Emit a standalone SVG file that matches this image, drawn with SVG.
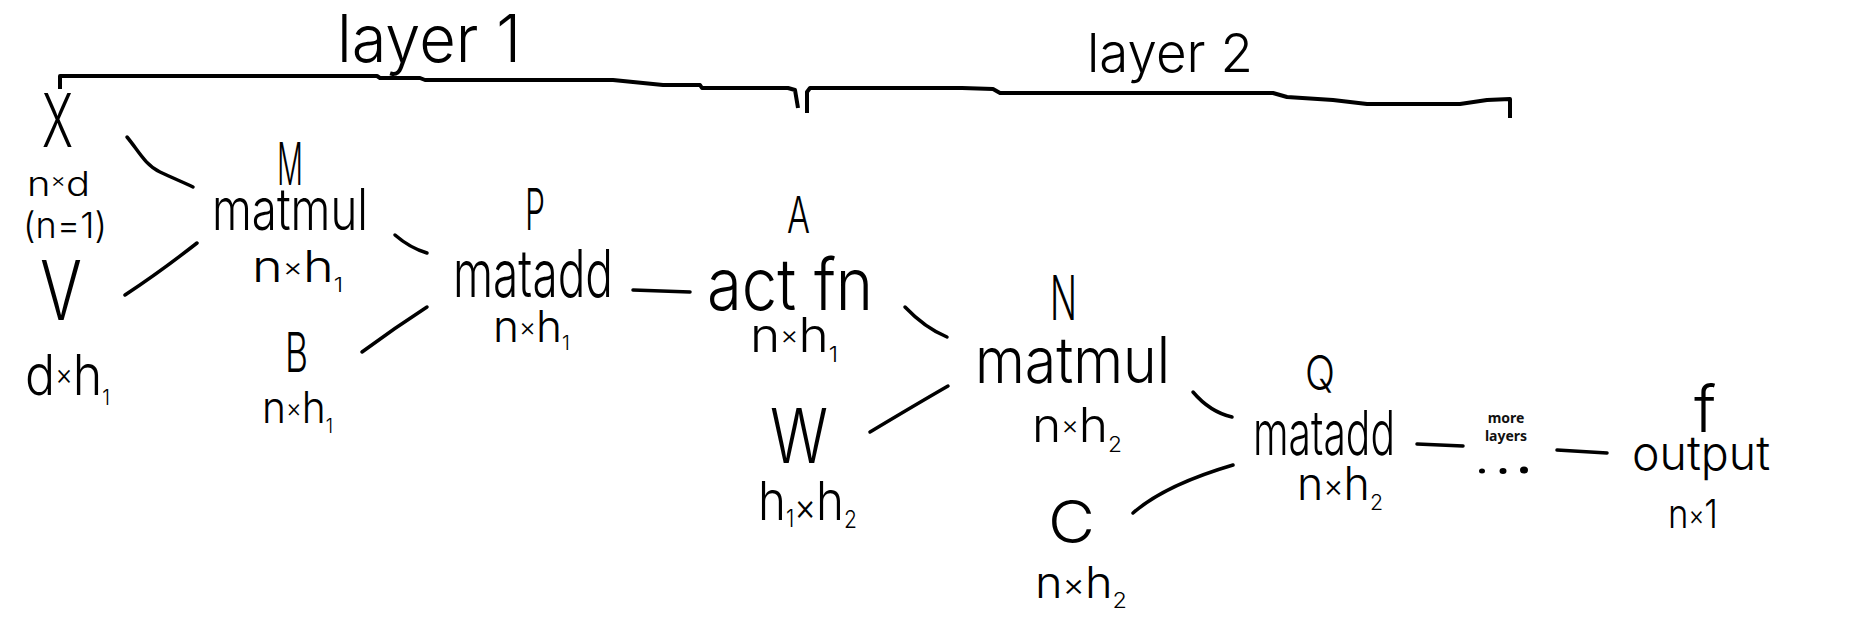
<svg xmlns="http://www.w3.org/2000/svg" width="1875" height="631" viewBox="0 0 1875 631">
<style>
text { font-family: Inter, "DejaVu Sans", "Liberation Sans", sans-serif; font-weight: 300; fill: #000; }
.ml { font-family: "Noto Sans", "Open Sans", "Liberation Sans", sans-serif; font-weight: 700; font-size: 14px; fill: #111; }
.ln { fill: none; stroke: #000; stroke-width: 3.5; stroke-linecap: round; stroke-linejoin: round; }
.br { fill: none; stroke: #000; stroke-width: 4; stroke-linejoin: round; stroke-linecap: butt; }
</style>
<rect width="1875" height="631" fill="#fff"/>

<g id="layer-brackets">
  <path class="br" d="M60,89 L60,76 L377,76 L380,78 L420,78 L425,80 L613,80 L663,85 L700,85 L702,88 L788,88 L795,90 L798,108"/>
  <path class="br" d="M807,113 L807,92 L810,88 L962,88 L993,89 L1000,93 L1273,93 L1287,97 L1333,100 L1367,104 L1460,104 L1487,100 L1510,99 L1510,118"/>
  <text x="337" y="62" font-size="66" textLength="184" lengthAdjust="spacingAndGlyphs">layer 1</text>
  <text x="1087" y="72" font-size="54" textLength="166" lengthAdjust="spacingAndGlyphs">layer 2</text>
</g>

<g id="connectors">
  <path class="ln" d="M127,137 C138,150 145,165 160,172 S185,183 193,187"/>
  <path class="ln" d="M125,295 Q160,272 197,243"/>
  <path class="ln" d="M395,235 Q410,248 427,253"/>
  <path class="ln" d="M362,352 C385,335 410,318 427,307"/>
  <path class="ln" d="M633,290 L690,292"/>
  <path class="ln" d="M905,307 Q925,328 947,337"/>
  <path class="ln" d="M870,432 Q915,405 948,386"/>
  <path class="ln" d="M1193,392 Q1210,412 1232,417"/>
  <path class="ln" d="M1133,513 Q1165,485 1233,465"/>
  <path class="ln" d="M1417,444 L1463,446"/>
  <path class="ln" d="M1557,450 L1607,453"/>
</g>

<g id="node-X">
  <text x="42" y="147" font-size="74" textLength="31" lengthAdjust="spacingAndGlyphs">X</text>
  <text x="27" y="196" font-size="34" textLength="63" lengthAdjust="spacingAndGlyphs">n<tspan font-size="20" dy="-9">×</tspan><tspan dy="9">d</tspan></text>
  <text x="23" y="238" font-size="36" textLength="84" lengthAdjust="spacingAndGlyphs">(n=1)</text>
</g>

<g id="node-V">
  <text x="40" y="320" font-size="82" textLength="42" lengthAdjust="spacingAndGlyphs">V</text>
  <text x="25" y="395" font-size="56" textLength="85" lengthAdjust="spacingAndGlyphs">d<tspan font-size="30" dy="-10">×</tspan><tspan dy="10">h</tspan><tspan font-size="22" dy="10">1</tspan></text>
</g>

<g id="node-M">
  <text x="277" y="185" font-size="59" textLength="26" lengthAdjust="spacingAndGlyphs">M</text>
  <text x="212" y="230" font-size="58" textLength="156" lengthAdjust="spacingAndGlyphs">matmul</text>
  <text x="252" y="282" font-size="44" textLength="91" lengthAdjust="spacingAndGlyphs">n<tspan font-size="26" dy="-6">×</tspan><tspan dy="6">h</tspan><tspan font-size="20" dy="10">1</tspan></text>
</g>

<g id="node-B">
  <text x="285" y="372" font-size="55" textLength="23" lengthAdjust="spacingAndGlyphs">B</text>
  <text x="262" y="423" font-size="44" textLength="71" lengthAdjust="spacingAndGlyphs">n<tspan font-size="26" dy="-6">×</tspan><tspan dy="6">h</tspan><tspan font-size="20" dy="10">1</tspan></text>
</g>

<g id="node-P">
  <text x="525" y="230" font-size="58" textLength="20" lengthAdjust="spacingAndGlyphs">P</text>
  <text x="453" y="297" font-size="66" textLength="160" lengthAdjust="spacingAndGlyphs">matadd</text>
  <text x="493" y="342" font-size="44" textLength="77" lengthAdjust="spacingAndGlyphs">n<tspan font-size="26" dy="-6">×</tspan><tspan dy="6">h</tspan><tspan font-size="20" dy="8">1</tspan></text>
</g>

<g id="node-A">
  <text x="787" y="233" font-size="51" textLength="23" lengthAdjust="spacingAndGlyphs">A</text>
  <text x="707" y="310" font-size="72" textLength="166" lengthAdjust="spacingAndGlyphs">act fn</text>
  <text x="750" y="352" font-size="48" textLength="88" lengthAdjust="spacingAndGlyphs">n<tspan font-size="26" dy="-8">×</tspan><tspan dy="8">h</tspan><tspan font-size="22" dy="10">1</tspan></text>
</g>

<g id="node-W">
  <text x="770" y="463" font-size="75" textLength="58" lengthAdjust="spacingAndGlyphs">W</text>
  <text x="758" y="520" font-size="54" textLength="99" lengthAdjust="spacingAndGlyphs">h<tspan font-size="24" dy="7">1</tspan><tspan font-size="38" dy="-7">×</tspan><tspan>h</tspan><tspan font-size="24" dy="8">2</tspan></text>
</g>

<g id="node-N">
  <text x="1050" y="320" font-size="62" textLength="27" lengthAdjust="spacingAndGlyphs">N</text>
  <text x="975" y="383" font-size="64" textLength="195" lengthAdjust="spacingAndGlyphs">matmul</text>
  <text x="1032" y="442" font-size="48" textLength="90" lengthAdjust="spacingAndGlyphs">n<tspan font-size="26" dy="-8">×</tspan><tspan dy="8">h</tspan><tspan font-size="22" dy="10">2</tspan></text>
</g>

<g id="node-C">
  <text x="1048" y="543" font-size="59" textLength="47" lengthAdjust="spacingAndGlyphs">C</text>
  <text x="1035" y="598" font-size="44" textLength="92" lengthAdjust="spacingAndGlyphs">n<tspan font-size="32" dy="-2">×</tspan><tspan dy="2">h</tspan><tspan font-size="22" dy="10">2</tspan></text>
</g>

<g id="node-Q">
  <text x="1305" y="390" font-size="48" textLength="30" lengthAdjust="spacingAndGlyphs">Q</text>
  <text x="1253" y="455" font-size="62" textLength="142" lengthAdjust="spacingAndGlyphs">matadd</text>
  <text x="1297" y="500" font-size="46" textLength="86" lengthAdjust="spacingAndGlyphs">n<tspan font-size="32" dy="-3">×</tspan><tspan dy="3">h</tspan><tspan font-size="22" dy="10">2</tspan></text>
</g>

<g id="node-more">
  <text class="ml" x="1506" y="423" text-anchor="middle">more</text>
  <text class="ml" x="1506" y="441" text-anchor="middle">layers</text>
  <ellipse cx="1482" cy="471" rx="3" ry="2.5"/>
  <ellipse cx="1503" cy="471" rx="3.5" ry="3"/>
  <ellipse cx="1524" cy="470" rx="4" ry="3.5"/>
</g>

<g id="node-f">
  <text x="1705" y="432" font-size="64" text-anchor="middle">f</text>
  <text x="1632" y="470" font-size="48" textLength="138" lengthAdjust="spacingAndGlyphs">output</text>
  <text x="1668" y="528" font-size="40" textLength="50" lengthAdjust="spacingAndGlyphs">n<tspan font-size="28" dy="-3">×</tspan><tspan dy="3">1</tspan></text>
</g>
</svg>
